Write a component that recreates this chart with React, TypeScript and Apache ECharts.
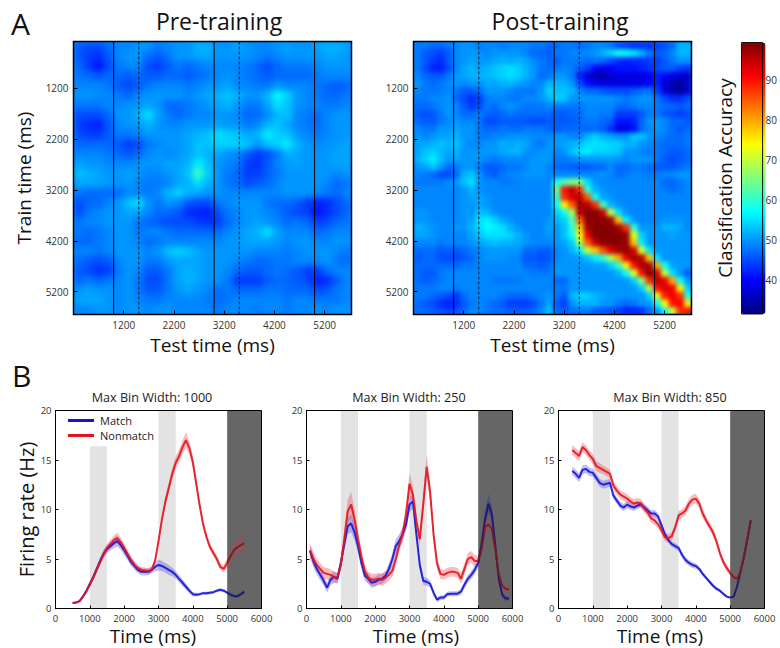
import React, { useEffect, useRef } from "react";
import * as echarts from "echarts";

const FONT = "'Open Sans', sans-serif";

const heatTicks = [1200, 2200, 3200, 4200, 5200];
const solidCues = [1000, 3000, 5000];
const dashedCues = [1500, 3500];
const colorbarTicks = [40, 50, 60, 70, 80, 90];
const jet = ["#00007f", "#0000ff", "#007fff", "#00ffff", "#7fff7f", "#ffff00", "#ff7f00", "#ff0000", "#7f0000"];

const preAccuracy = [
  [46,45,45,47,49,49,50,50,48,49,50,50,52,52,50,50,51,50,49,49,50,51,50,50,51,52,52,51],
  [46,44,43,46,49,50,50,47,46,48,50,50,51,51,50,50,50,50,49,48,49,50,50,50,50,51,51,50],
  [47,44,41,45,48,49,49,45,44,46,48,47,48,49,49,49,49,48,47,45,47,48,48,48,49,50,50,50],
  [48,47,46,47,47,46,47,46,46,47,47,46,47,48,49,50,49,48,47,46,47,47,47,47,48,49,49,49],
  [49,49,49,48,46,45,46,48,49,49,49,48,49,50,50,51,49,49,48,48,50,49,49,49,48,47,46,47],
  [50,50,49,49,48,47,49,50,50,50,50,49,50,51,52,53,52,50,50,52,57,54,50,49,48,47,47,48],
  [48,48,48,49,49,50,50,51,50,47,47,48,49,50,51,52,50,48,48,51,55,53,50,49,49,48,48,49],
  [45,45,45,47,50,50,52,55,51,48,47,48,49,49,50,50,49,47,47,49,52,53,49,48,47,49,50,50],
  [44,43,42,46,49,50,50,52,50,49,49,50,50,50,51,50,50,48,49,52,53,51,49,48,47,49,50,50],
  [45,44,44,46,48,48,49,50,50,50,50,51,52,53,55,54,53,51,52,56,54,53,50,49,48,49,50,50],
  [47,47,47,47,46,44,45,48,49,50,50,51,53,53,54,54,54,53,50,53,54,56,52,50,49,50,50,51],
  [49,49,49,48,47,46,47,49,50,49,50,51,53,52,51,50,49,46,44,45,48,52,51,50,50,50,51,51],
  [51,50,50,49,49,49,50,50,50,51,51,52,56,53,50,49,48,44,43,46,49,50,51,50,50,50,51,51],
  [53,52,51,50,50,51,50,49,49,50,51,53,61,54,50,48,47,44,44,46,48,50,50,50,50,50,49,50],
  [51,51,51,50,50,50,49,48,48,49,51,52,55,52,50,48,47,45,46,47,49,50,50,50,50,49,47,48],
  [48,47,47,47,47,49,49,48,49,52,54,52,51,50,50,49,49,49,49,49,49,50,50,50,49,48,47,49],
  [45,47,47,49,50,53,55,50,48,50,49,46,45,45,48,49,50,50,50,48,47,47,46,44,42,43,45,47],
  [45,48,49,50,50,51,51,49,47,47,46,43,42,42,45,48,49,50,50,49,48,46,45,44,41,43,45,47],
  [48,49,49,50,50,50,48,47,46,45,45,45,44,43,44,47,49,50,51,50,49,47,48,47,44,45,47,48],
  [48,47,48,49,50,50,48,49,49,48,47,47,47,47,47,49,50,51,52,55,51,49,49,49,47,48,49,49],
  [47,47,48,49,50,50,49,47,48,49,49,49,49,49,49,50,50,51,51,51,50,49,50,50,49,49,50,50],
  [49,49,48,49,50,50,50,49,50,53,54,53,51,50,50,50,50,50,49,49,49,48,49,50,50,50,49,48],
  [47,46,45,46,49,50,50,48,48,50,51,51,51,50,50,50,49,48,47,47,48,48,49,49,49,50,48,47],
  [46,45,43,44,48,50,49,46,46,48,51,52,51,50,50,49,47,46,46,47,48,47,46,44,44,47,49,49],
  [47,48,47,48,49,50,48,45,45,48,51,52,51,50,50,48,44,44,44,46,47,47,46,45,42,43,46,49],
  [50,51,50,50,49,50,48,46,46,48,50,51,50,49,47,48,47,47,47,48,48,47,47,47,45,46,48,49],
  [51,51,51,50,49,50,49,48,48,49,49,49,49,48,47,48,49,49,49,49,49,48,49,49,48,48,48,49],
  [49,49,50,50,49,50,50,49,50,50,49,49,49,49,48,49,49,49,48,49,49,48,49,49,50,49,50,50],
];

const postAccuracy = [
  [48,48,47,47,48,49,50,50,48,49,49,48,49,49,49,48,48,47,47,48,48,47,48,49,49,48,45,44,43,43,43,44,45,47,52,52],
  [48,46,45,44,46,49,50,50,50,49,50,50,50,50,49,47,47,46,48,48,49,49,49,50,52,54,58,57,55,52,48,46,47,49,52,52],
  [48,46,44,43,46,49,50,51,50,50,51,52,51,52,51,49,48,47,46,48,48,48,47,48,47,45,43,42,43,43,44,44,46,48,50,50],
  [48,45,42,42,45,49,51,52,51,52,53,54,55,54,52,50,48,47,48,49,48,46,44,40,38,40,41,41,41,42,43,45,46,46,44,43],
  [49,47,46,46,48,50,51,52,52,52,53,54,55,54,52,50,47,48,50,50,48,42,38,35,34,37,38,38,38,38,39,42,40,38,37,36],
  [50,48,47,48,49,50,49,50,50,51,51,52,52,51,50,49,49,52,52,52,50,45,41,39,38,38,38,38,38,38,40,42,37,35,33,37],
  [49,48,48,48,49,48,46,46,47,50,50,50,49,48,48,48,50,54,53,53,52,49,47,47,46,45,45,45,46,47,48,44,38,35,33,37],
  [48,48,49,49,50,47,45,43,44,48,49,49,48,48,49,49,50,52,54,53,50,50,50,50,50,50,49,48,49,50,50,48,45,43,43,45],
  [47,47,48,49,50,49,46,44,45,48,47,49,50,49,48,48,48,49,48,48,48,48,49,49,49,49,47,47,48,49,49,48,47,47,46,47],
  [46,45,46,48,50,49,47,47,48,47,46,47,48,47,47,47,47,47,46,46,47,47,49,49,48,48,44,44,44,46,48,48,46,45,44,45],
  [47,46,46,48,49,50,49,49,48,45,45,46,46,46,46,45,45,46,46,46,46,47,48,48,47,46,41,41,42,47,50,50,49,47,47,46],
  [49,48,48,50,50,51,50,50,48,47,47,48,47,47,48,48,48,47,46,47,47,47,47,47,46,43,38,38,41,47,49,50,49,47,46,47],
  [50,49,50,51,51,52,50,50,48,48,49,49,50,50,50,49,49,49,50,50,49,49,52,54,52,51,50,50,53,53,50,49,48,47,47,48],
  [51,51,52,53,52,53,50,49,49,50,50,52,51,52,51,49,48,50,50,51,52,53,55,55,55,54,54,52,52,50,49,48,47,47,47,48],
  [51,53,54,52,51,52,50,50,50,50,50,51,52,52,50,49,50,50,49,50,53,55,56,54,54,54,53,50,50,49,48,48,47,46,46,47],
  [52,54,56,53,50,51,50,50,50,49,48,49,49,49,49,50,50,50,48,48,49,50,50,50,50,50,50,49,50,50,50,48,46,45,46,47],
  [50,51,53,50,47,48,50,50,48,46,46,47,48,48,49,50,50,49,47,47,46,46,46,47,47,49,47,47,48,48,47,46,46,46,47,48],
  [49,48,47,45,45,47,52,53,50,47,46,48,49,49,50,50,50,49,49,49,49,49,49,49,50,49,47,48,49,49,48,48,49,49,50,50],
  [48,48,48,48,49,50,53,55,50,49,49,48,48,49,49,49,49,49,58,62,65,65,55,50,49,49,49,49,49,49,49,49,47,47,48,49],
  [49,49,49,49,49,49,50,52,50,49,49,49,49,49,49,49,49,49,65,90,95,88,60,52,50,49,49,49,49,49,49,49,48,47,48,49],
  [49,49,49,49,49,49,50,51,51,50,49,49,49,49,49,49,49,49,60,88,94,95,85,58,51,50,49,49,49,49,49,49,49,49,49,49],
  [49,49,49,49,49,49,50,50,51,50,49,49,49,49,49,49,49,49,57,75,85,97,96,88,62,52,50,49,49,49,49,49,49,49,49,49],
  [50,50,49,49,49,49,50,50,53,52,50,49,49,49,49,49,49,49,54,58,68,95,99,99,94,70,55,50,49,49,49,49,49,49,49,49],
  [50,50,49,49,49,49,50,51,55,56,54,51,50,49,49,49,49,50,52,54,62,85,99,99,99,97,78,56,50,49,49,49,50,50,50,49],
  [52,51,50,49,49,50,50,52,55,57,56,55,52,50,49,49,49,51,50,53,60,78,97,99,99,99,97,88,60,50,50,50,52,52,51,49],
  [51,51,50,49,49,49,49,51,53,55,55,55,54,52,50,49,49,50,50,53,58,74,92,99,99,99,99,98,72,54,50,50,50,51,50,50],
  [49,49,49,48,49,49,49,50,51,52,53,52,52,51,50,49,49,49,50,51,54,68,85,95,99,99,99,98,78,56,50,50,50,50,50,50],
  [47,47,47,46,46,46,47,48,49,50,50,50,50,50,47,47,46,46,49,50,52,56,70,78,86,93,97,98,94,72,55,50,50,50,50,50],
  [46,47,47,45,45,45,46,47,49,50,50,50,49,49,46,46,45,46,49,50,50,51,53,56,60,68,80,92,97,95,78,55,50,50,50,50],
  [47,47,47,47,47,47,48,48,49,49,49,49,49,49,47,47,46,47,50,50,50,50,50,51,51,54,60,75,90,97,97,80,58,51,50,50],
  [47,46,46,48,49,49,49,49,49,49,49,49,49,49,49,48,48,48,50,50,50,50,50,50,50,50,52,58,72,90,99,93,70,55,50,46],
  [47,46,47,48,49,49,49,49,49,49,48,48,48,48,49,49,49,49,47,47,50,50,50,50,50,50,50,50,54,66,88,96,92,80,58,50],
  [48,48,48,49,49,48,49,49,49,49,49,49,49,49,49,49,49,49,48,48,50,50,50,50,50,50,50,50,50,54,68,90,93,92,75,54],
  [48,48,47,46,45,44,47,49,49,49,49,48,47,47,47,48,49,50,48,46,52,54,54,52,51,50,50,50,50,50,54,72,89,92,88,60],
  [47,46,45,43,42,43,46,48,49,48,47,46,44,44,44,45,48,51,46,44,50,52,52,52,50,50,48,47,48,50,50,57,74,90,91,75],
  [47,47,46,45,44,45,47,49,49,48,47,47,46,46,46,47,49,53,47,46,47,48,48,46,46,45,44,42,42,43,47,50,57,72,88,90],
];

const p1Times = [500,600,700,800,900,1000,1100,1200,1300,1400,1500,1600,1700,1800,1900,2000,2100,2200,2300,2400,2500,2600,2700,2800,2900,3000,3100,3200,3300,3400,3500,3600,3700,3800,3900,4000,4100,4200,4300,4400,4500,4600,4700,4800,4900,5000,5100,5200,5300,5400,5500];
const p1Match = [0.55,0.6,0.75,1.2,1.8,2.5,3.2,4.0,4.8,5.5,6.0,6.3,6.6,6.8,6.4,5.9,5.3,4.7,4.3,3.9,3.7,3.7,3.7,3.9,4.2,4.4,4.3,4.1,3.9,3.7,3.4,3.0,2.6,2.2,1.8,1.45,1.4,1.45,1.55,1.55,1.6,1.65,1.8,1.9,1.8,1.6,1.4,1.25,1.25,1.45,1.7];
const p1MatchErr = [0.05,0.05,0.08,0.1,0.15,0.2,0.25,0.3,0.35,0.4,0.4,0.45,0.5,0.55,0.5,0.5,0.45,0.4,0.4,0.35,0.35,0.35,0.35,0.35,0.45,0.55,0.5,0.5,0.5,0.45,0.4,0.35,0.35,0.3,0.25,0.2,0.2,0.15,0.15,0.15,0.15,0.15,0.15,0.15,0.15,0.15,0.15,0.15,0.15,0.15,0.2];
const p1Non = [0.55,0.6,0.75,1.2,1.7,2.4,3.1,3.9,4.7,5.5,6.1,6.5,6.9,7.1,6.7,6.1,5.5,4.9,4.4,4.1,3.9,3.85,3.8,3.9,4.8,6.8,9,10.8,12.2,13.6,14.7,15.4,16.3,17.0,16.2,14.8,12.6,10.4,8.5,7.2,6.2,5.6,5.0,4.2,4.0,4.6,5.3,5.9,6.2,6.4,6.6];
const p1NonErr = [0.05,0.05,0.08,0.1,0.15,0.2,0.25,0.3,0.35,0.4,0.4,0.45,0.5,0.55,0.5,0.45,0.4,0.4,0.35,0.35,0.3,0.3,0.3,0.3,0.3,0.35,0.4,0.5,0.55,0.6,0.65,0.65,0.7,0.8,0.7,0.6,0.5,0.45,0.4,0.35,0.35,0.35,0.35,0.35,0.35,0.5,0.7,0.8,0.85,0.9,0.95];

const p2Times = [100,200,300,400,500,600,700,800,900,1000,1100,1200,1300,1400,1500,1600,1700,1800,1900,2000,2100,2200,2300,2400,2500,2600,2700,2800,2900,3000,3100,3200,3300,3400,3500,3600,3700,3800,3900,4000,4100,4200,4300,4400,4500,4600,4700,4800,4900,5000,5100,5200,5300,5400,5500,5600,5700,5800,5900];
const p2Match = [5.8,4.8,4.0,3.4,2.8,2.1,2.9,3.2,3.0,4.6,6.5,8.3,8.6,7.7,6.3,4.6,3.3,3.0,2.6,2.7,2.9,3.0,3.3,4.0,5.0,6.3,6.8,7.5,8.5,10.5,10.8,7.5,4.4,2.8,2.7,2.5,1.6,0.9,1.1,1.1,1.45,1.5,1.5,1.5,1.7,2.4,3.0,3.4,3.9,4.6,6.5,9,10.6,9.5,6.3,3.0,1.4,1.0,1.0];
const p2MatchErr = [0.6,0.6,0.6,0.55,0.5,0.5,0.55,0.6,0.5,0.6,0.7,0.8,0.9,0.8,0.7,0.6,0.5,0.5,0.5,0.5,0.5,0.5,0.5,0.55,0.6,0.7,0.7,0.7,0.7,0.8,0.7,0.6,0.5,0.4,0.4,0.35,0.3,0.25,0.25,0.25,0.25,0.25,0.25,0.25,0.3,0.35,0.4,0.4,0.45,0.5,0.7,0.9,1.0,0.9,0.6,0.4,0.3,0.25,0.2];
const p2Non = [5.9,5.0,4.4,4.0,3.6,3.5,3.4,3.2,3.1,4.4,7,9.8,10.5,9.0,7,5.2,3.8,3.1,2.9,2.9,3.0,2.9,3.1,3.4,3.8,5.0,6.4,7.5,9.5,12.6,11.5,8.8,7.0,10.5,14.3,11.8,7.5,4.6,3.5,3.4,3.6,3.7,3.7,3.6,3.0,4.0,5.0,5.2,4.8,4.8,6.0,8.2,8.5,8.0,6,3.5,2.3,2.0,1.9];
const p2NonErr = [0.7,0.7,0.65,0.6,0.6,0.6,0.6,0.55,0.5,0.6,0.9,1.2,1.3,1.1,0.8,0.7,0.6,0.6,0.6,0.6,0.6,0.6,0.6,0.6,0.6,0.7,0.7,0.8,1.0,1.1,0.9,0.7,0.7,1.0,1.3,1.0,0.8,0.6,0.5,0.5,0.5,0.5,0.5,0.5,0.5,0.6,0.6,0.6,0.6,0.5,0.5,0.6,0.6,0.5,0.4,0.3,0.3,0.3,0.3];

const p3Times = [400,500,600,700,800,900,1000,1100,1200,1300,1400,1500,1600,1700,1800,1900,2000,2100,2200,2300,2400,2500,2600,2700,2800,2900,3000,3100,3200,3300,3400,3500,3600,3700,3800,3900,4000,4100,4200,4300,4400,4500,4600,4700,4800,4900,5000,5100,5200,5300,5400,5500,5600];
const p3Match = [13.9,13.6,13.2,14.0,14.1,13.8,13.7,13.2,12.7,12.5,12.6,12.7,11.4,10.9,10.4,10.2,10.5,10.3,10.2,10.4,10.5,10.2,9.9,9.6,9.6,9.3,8.4,7.5,6.9,6.5,6.3,6.1,5.4,4.9,4.6,4.4,4.3,4.0,3.5,3.1,2.7,2.3,2.0,1.8,1.5,1.2,1.1,1.2,2.2,3.7,5.2,7.0,8.9];
const p3MatchErr = [0.45,0.45,0.45,0.45,0.45,0.45,0.4,0.4,0.4,0.4,0.4,0.4,0.35,0.35,0.35,0.35,0.35,0.35,0.35,0.35,0.35,0.35,0.35,0.35,0.35,0.35,0.35,0.35,0.3,0.3,0.3,0.3,0.3,0.3,0.3,0.3,0.25,0.25,0.25,0.2,0.2,0.2,0.2,0.15,0.15,0.12,0.1,0.1,0.08,0.05,0.05,0.05,0.05];
const p3Non = [16,15.7,15.4,16.3,16,15.5,15.1,14.4,14.2,14.0,13.8,13.6,12.4,11.9,11.5,11.3,11.1,10.8,10.6,10.7,10.6,10.1,9.7,9.1,8.9,8.5,7.9,7.2,7.1,7.3,8.2,9.4,9.6,9.9,10.6,11.0,11.1,10.6,9.6,8.9,8.3,7.7,6.8,5.6,4.7,4.1,3.6,3.2,3.0,3.7,5.2,7,8.9];
const p3NonErr = [0.5,0.5,0.5,0.5,0.5,0.5,0.5,0.5,0.5,0.45,0.45,0.45,0.45,0.45,0.45,0.45,0.45,0.45,0.45,0.45,0.45,0.45,0.45,0.45,0.45,0.4,0.4,0.4,0.4,0.4,0.45,0.45,0.45,0.45,0.5,0.5,0.5,0.45,0.45,0.4,0.4,0.4,0.4,0.35,0.35,0.35,0.3,0.3,0.25,0.1,0.08,0.05,0.05];

const panelTitles = ["Max Bin Width: 1000", "Max Bin Width: 250", "Max Bin Width: 850"];
const grayEpochs = [[1000, 1500], [3000, 3500]];
const darkEpoch = [5000, 6000];
const firstEpochTop = [16.4, 20, 20];

const indices = (n: number) => Array.from({ length: n }, (_, i) => String(i));
const plainNumber = (v: number) => String(v);

const heatBoxes = [
  { left: 73.5, top: 41.5, width: 278, height: 273 },
  { left: 413.5, top: 41.5, width: 278, height: 273 },
];
const panelBoxes = [
  { left: 55.5, top: 410.5, width: 206, height: 198 },
  { left: 306.5, top: 410.5, width: 206, height: 198 },
  { left: 558.5, top: 410.5, width: 206, height: 198 },
];

function heatOption(rows: number[][], name: string) {
  const cells: number[][] = [];
  rows.forEach((row, r) => row.forEach((v, c) => cells.push([c, r, v])));
  return {
    animation: false,
    grid: { left: 0, top: 0, right: 0, bottom: 0 },
    xAxis: { type: "category", show: false, data: indices(rows[0].length) },
    yAxis: { type: "category", show: false, inverse: true, data: indices(rows.length) },
    visualMap: { show: false, min: 31.5, max: 99.5, inRange: { color: jet } },
    series: [{ type: "heatmap", name, data: cells, silent: true }],
  };
}

function buildOption() {
  const grid: any[] = [];
  const xAxis: any[] = [];
  const yAxis: any[] = [];
  // series 0 only carries the colour bar's visual map
  const series: any[] = [{ type: "scatter", xAxisIndex: 2, yAxisIndex: 2, data: [], silent: true }];

  heatBoxes.forEach((box, i) => {
    grid.push({ ...box, show: true, backgroundColor: "transparent", borderColor: "#000", borderWidth: 1.5, z: 5 });
    xAxis.push({
      type: "value", gridIndex: i, min: 200, max: 5735, z: 6,
      axisLine: { show: false }, splitLine: { show: false },
      axisTick: { inside: true, length: 4, customValues: heatTicks, lineStyle: { color: "#000" } },
      axisLabel: { customValues: heatTicks, formatter: plainNumber, margin: 5, fontSize: 10, color: "#333", fontFamily: FONT },
      name: "Test time (ms)", nameLocation: "middle", nameGap: 21,
      nameTextStyle: { fontSize: 19, color: "#111", fontFamily: FONT },
    });
    yAxis.push({
      type: "value", gridIndex: i, min: 280, max: 5650, inverse: true, z: 6,
      axisLine: { show: false }, splitLine: { show: false },
      axisTick: { inside: true, length: 4, customValues: heatTicks, lineStyle: { color: "#000" } },
      axisLabel: { customValues: heatTicks, formatter: plainNumber, margin: 5, fontSize: 10, color: "#333", fontFamily: FONT },
      name: i === 0 ? "Train time (ms)" : "", nameLocation: "middle", nameGap: 40,
      nameTextStyle: { fontSize: 19, color: "#111", fontFamily: FONT },
    });
    [...solidCues.map((t) => [t, 0]), ...dashedCues.map((t) => [t, 1])].forEach(([t, dashed]) => {
      series.push({
        type: "line", xAxisIndex: i, yAxisIndex: i, z: 4, silent: true, showSymbol: false, symbol: "none",
        lineStyle: { color: dashed ? "#123" : "#000", width: 1, type: dashed ? [3, 2] : "solid" },
        data: [[t, 280], [t, 5650]],
      });
    });
  });

  // colour bar axis
  grid.push({ left: 741.5, top: 42.5, width: 24, height: 271.5, show: true, backgroundColor: "transparent", borderColor: "#111", borderWidth: 1, z: 6 });
  xAxis.push({ type: "value", gridIndex: 2, show: false, min: 0, max: 1 });
  yAxis.push({
    type: "value", gridIndex: 2, position: "right", min: 31.5, max: 99.5, z: 7,
    axisLine: { show: false }, splitLine: { show: false }, axisTick: { show: false },
    axisLabel: { customValues: colorbarTicks, margin: 3, fontSize: 10, color: "#333", fontFamily: FONT },
  });

  const panels = [
    [p1Times, p1Match, p1MatchErr, p1Non, p1NonErr],
    [p2Times, p2Match, p2MatchErr, p2Non, p2NonErr],
    [p3Times, p3Match, p3MatchErr, p3Non, p3NonErr],
  ];
  const looks = [
    { name: "Match", line: "#1414d8", band: "rgba(90,80,225,0.38)", darkLine: "#17176e", darkBand: "rgba(60,60,150,0.5)" },
    { name: "Nonmatch", line: "#e4141e", band: "rgba(235,70,80,0.36)", darkLine: "#7a1a24", darkBand: "rgba(150,80,85,0.6)" },
  ];

  panelBoxes.forEach((box, i) => {
    const idx = 3 + i;
    grid.push({ ...box, show: true, backgroundColor: "transparent", borderColor: "#000", borderWidth: 1, z: 3 });
    xAxis.push({
      type: "value", gridIndex: idx, min: 0, max: 6000, interval: 1000, z: 4,
      axisLine: { onZero: false, lineStyle: { color: "#000" } }, splitLine: { show: false },
      axisTick: { inside: true, length: 3, lineStyle: { color: "#000" } },
      axisLabel: { margin: 5, fontSize: 9.5, color: "#333", fontFamily: FONT, formatter: plainNumber },
    });
    yAxis.push({
      type: "value", gridIndex: idx, min: 0, max: 20, interval: 5, z: 4,
      axisLine: { lineStyle: { color: "#000" } }, splitLine: { show: false },
      axisTick: { inside: true, length: 3, lineStyle: { color: "#000" } },
      axisLabel: { margin: 4, fontSize: 9.5, color: "#333", fontFamily: FONT },
      name: i === 0 ? "Firing rate (Hz)" : "", nameLocation: "middle", nameGap: 18,
      nameTextStyle: { fontSize: 20, color: "#111", fontFamily: FONT },
    });
    series.push({
      type: "line", xAxisIndex: idx, yAxisIndex: idx, data: [], z: 1, silent: true,
      markArea: {
        silent: true,
        data: [
          [{ xAxis: grayEpochs[0][0], yAxis: 0, itemStyle: { color: "#e3e3e3" } }, { xAxis: grayEpochs[0][1], yAxis: firstEpochTop[i] }],
          [{ xAxis: grayEpochs[1][0], yAxis: 0, itemStyle: { color: "#e3e3e3" } }, { xAxis: grayEpochs[1][1], yAxis: 20 }],
          [{ xAxis: darkEpoch[0], yAxis: 0, itemStyle: { color: "#666666" } }, { xAxis: darkEpoch[1], yAxis: 20 }],
        ],
      },
    });
    const [times, mb, eb, mr, er] = panels[i];
    [[mb, eb], [mr, er]].forEach(([means, errs], k) => {
      const look = looks[k];
      [0, 1].forEach((seg) => {
        const keep = times.map((_, j) => j).filter((j) => (seg === 0 ? times[j] <= 5000 : times[j] >= 5000));
        const rowsForBand = keep.map((j) => [times[j], means[j] - errs[j], means[j] + errs[j]]);
        series.push({
          type: "custom", xAxisIndex: idx, yAxisIndex: idx, z: 2, silent: true,
          encode: { x: 0, y: [1, 2] },
          data: rowsForBand,
          renderItem: (params: any, api: any) => {
            if (params.dataIndex !== 0) return null;
            const upper = rowsForBand.map((p) => api.coord([p[0], p[2]]));
            const lower = rowsForBand.map((p) => api.coord([p[0], p[1]])).reverse();
            return { type: "polygon", shape: { points: [...upper, ...lower] }, style: { fill: seg === 0 ? look.band : look.darkBand } };
          },
        });
        series.push({
          type: "line", name: seg === 0 ? look.name : look.name + " (late)", xAxisIndex: idx, yAxisIndex: idx, z: 3, silent: true,
          showSymbol: false, symbol: "none",
          itemStyle: { color: look.line },
          lineStyle: { width: 2, color: seg === 0 ? look.line : look.darkLine, opacity: 0.9 },
          data: keep.map((j) => [times[j], means[j]]),
        });
      });
    });
  });

  const title = [
    { text: "Pre-training", left: 214, top: 4, textAlign: "center", textStyle: { fontSize: 23, fontWeight: "normal", color: "#111", fontFamily: FONT } },
    { text: "Post-training", left: 555, top: 4, textAlign: "center", textStyle: { fontSize: 23, fontWeight: "normal", color: "#111", fontFamily: FONT } },
    { text: "A", left: 6, top: 3, textStyle: { fontSize: 30, fontWeight: "normal", color: "#111", fontFamily: FONT } },
    { text: "B", left: 7, top: 355, textStyle: { fontSize: 30, fontWeight: "normal", color: "#111", fontFamily: FONT } },
    ...panelTitles.map((text, i) => ({
      text, left: [147, 404, 665][i], top: 386, textAlign: "center",
      textStyle: { fontSize: 12.6, fontWeight: "normal", color: "#222", fontFamily: FONT },
    })),
  ];

  return {
    animation: false,
    backgroundColor: "transparent",
    title,
    grid, xAxis, yAxis, series,
    visualMap: {
      type: "continuous", seriesIndex: [0], min: 31.5, max: 99.5, calculable: false, realtime: false, hoverLink: false,
      left: 741.5, top: 42.5, itemWidth: 24, itemHeight: 271.5, padding: 0, text: ["", ""], showLabel: false,
      inRange: { color: jet },
    },
    legend: {
      show: true, orient: "vertical", left: 63, top: 410, itemWidth: 26, itemHeight: 3, itemGap: 4, selectedMode: false,
      icon: "rect", data: ["Match", "Nonmatch"],
      textStyle: { fontSize: 11, color: "#222", fontFamily: FONT, padding: [0, 0, 0, 1] },
    },
    graphic: [
      {
        type: "text", x: 725, y: 178, rotation: Math.PI / 2, silent: true,
        style: { text: "Classification Accuracy", fontSize: 19, fill: "#111", fontFamily: FONT, textAlign: "center", textVerticalAlign: "middle" },
      },
      ...[153, 416, 660].map((x) => ({
        type: "text", x, y: 636, silent: true,
        style: { text: "Time (ms)", fontSize: 19, fill: "#111", fontFamily: FONT, textAlign: "center", textVerticalAlign: "middle" },
      })),
    ],
  };
}

export default function App() {
  const mainRef = useRef<HTMLDivElement>(null);
  const preRef = useRef<HTMLDivElement>(null);
  const postRef = useRef<HTMLDivElement>(null);
  useEffect(() => {
    const pre = echarts.init(preRef.current!, undefined, { renderer: "svg" });
    pre.setOption(heatOption(preAccuracy, "Pre-training") as any);
    const post = echarts.init(postRef.current!, undefined, { renderer: "svg" });
    post.setOption(heatOption(postAccuracy, "Post-training") as any);
    const chart = echarts.init(mainRef.current!, undefined, { renderer: "svg" });
    chart.setOption(buildOption() as any);
    return () => {
      chart.dispose();
      pre.dispose();
      post.dispose();
    };
  }, []);
  const clip = (box: any): React.CSSProperties => ({
    position: "absolute", left: box.left, top: box.top, width: box.width, height: box.height, overflow: "hidden", background: "#0a84fa",
  });
  return (
    <div style={{ position: "absolute", left: 0, top: 0, width: 780, height: 648, background: "#fff", overflow: "hidden" }}>
      <div style={clip(heatBoxes[0])}>
        <div ref={preRef} style={{ width: heatBoxes[0].width, height: heatBoxes[0].height, filter: "blur(3px)" }} />
      </div>
      <div style={clip(heatBoxes[1])}>
        <div ref={postRef} style={{ width: heatBoxes[1].width, height: heatBoxes[1].height, filter: "blur(2px)" }} />
      </div>
      <div ref={mainRef} style={{ position: "absolute", left: 0, top: 0, width: 780, height: 648 }} />
    </div>
  );
}
